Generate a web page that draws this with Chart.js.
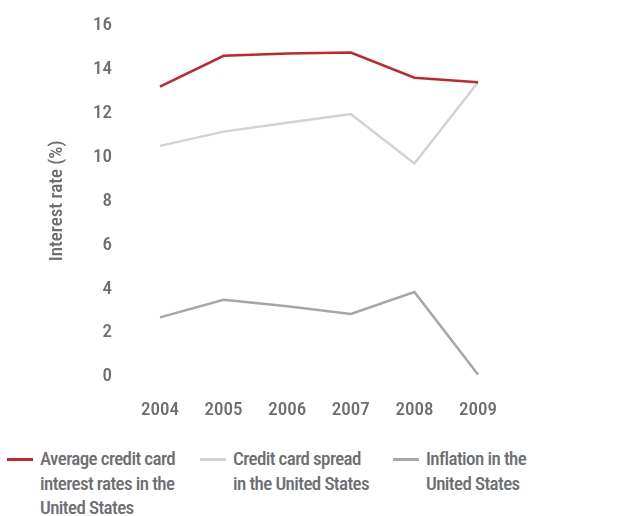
<!DOCTYPE html>
<html>
<head>
<meta charset="utf-8">
<script src="https://cdn.jsdelivr.net/npm/chart.js@4/dist/chart.umd.min.js"></script>
<style>
  html, body { margin: 0; padding: 0; background: #fff; }
  #wrap { position: relative; width: 631px; height: 516px; overflow: hidden; }
  #chart { position: absolute; left: 0; top: 0; }
  .legend { position: absolute; top: 447px; font-family: 'Roboto Condensed', sans-serif; font-weight: 500;
            font-size: 19px; line-height: 24.5px; color: #6d6e71; letter-spacing: -0.6px; }
  .legend .swatch { position: absolute; left: 0; top: 11px; width: 26px; height: 2.5px; }
  .legend .txt { position: absolute; left: 33px; top: 0; white-space: nowrap; }
</style>
</head>
<body>
<div id="wrap">
  <canvas id="chart" width="631" height="430" style="width:631px;height:430px"></canvas>
  <div id="legend"></div>
</div>
<script>
const years = ['2004', '2005', '2006', '2007', '2008', '2009'];
const avgCardRate = [13.2, 14.6, 14.7, 14.75, 13.6, 13.4];
const cardSpread = [10.5, 11.15, 11.55, 11.95, 9.7, 13.4];
const inflation = [2.7, 3.5, 3.2, 2.85, 3.85, 0.1];
const yTicks = [0, 2, 4, 6, 8, 10, 12, 14, 16];

const seriesNames = [
  ['Average credit card', 'interest rates in the', 'United States'],
  ['Credit card spread', 'in the United States'],
  ['Inflation in the', 'United States']
];
const seriesColors = ['#c1272d', '#d3d3d3', '#a6a6ab'];
const seriesData = [avgCardRate, cardSpread, inflation];

const FONT = "'Roboto Condensed', sans-serif";
const TEXT = '#6d6e71';

new Chart(document.getElementById('chart'), {
  type: 'line',
  data: {
    labels: years,
    datasets: seriesData.map((d, i) => ({
      label: seriesNames[i].join(' '),
      data: d,
      borderColor: seriesColors[i],
      backgroundColor: seriesColors[i],
      borderWidth: 2.5,
      pointRadius: 0,
      tension: 0,
      fill: false
    }))
  },
  options: {
    responsive: false,
    animation: false,
    layout: { padding: { top: 25, right: 153, left: 0, bottom: 0 } },
    plugins: { legend: { display: false }, tooltip: { enabled: false } },
    scales: {
      x: {
        offset: false,
        grid: { display: false, drawTicks: false },
        border: { display: false },
        ticks: { color: TEXT, font: { family: FONT, size: 19, weight: 500 }, padding: 22, maxRotation: 0 },
        afterFit(scale) { scale.height = 53.3; }
      },
      y: {
        min: 0, max: 16,
        afterBuildTicks(scale) { scale.ticks = yTicks.map(v => ({ value: v })); },
        // invisible tick marks keep the labels well clear of the plot
        grid: { display: true, drawOnChartArea: false, drawTicks: true, tickLength: 40, color: 'rgba(0,0,0,0)' },
        border: { display: false },
        ticks: { color: TEXT, font: { family: FONT, size: 19, weight: 500 }, padding: 8 },
        title: {
          display: true, text: 'Interest rate (%)', color: TEXT,
          font: { family: FONT, size: 19, weight: 500 }, padding: { top: 46, bottom: 0 }
        },
        afterFit(scale) { scale.width = 160; }
      }
    }
  }
});

// Legend below the plot, one column per series
const legendX = [7, 200, 393];
const legend = document.getElementById('legend');
seriesNames.forEach((lines, i) => {
  const item = document.createElement('div');
  item.className = 'legend';
  item.style.left = legendX[i] + 'px';
  const sw = document.createElement('div');
  sw.className = 'swatch';
  sw.style.background = seriesColors[i];
  const txt = document.createElement('div');
  txt.className = 'txt';
  txt.innerHTML = lines.join('<br>');
  item.appendChild(sw);
  item.appendChild(txt);
  legend.appendChild(item);
});
</script>
</body>
</html>
